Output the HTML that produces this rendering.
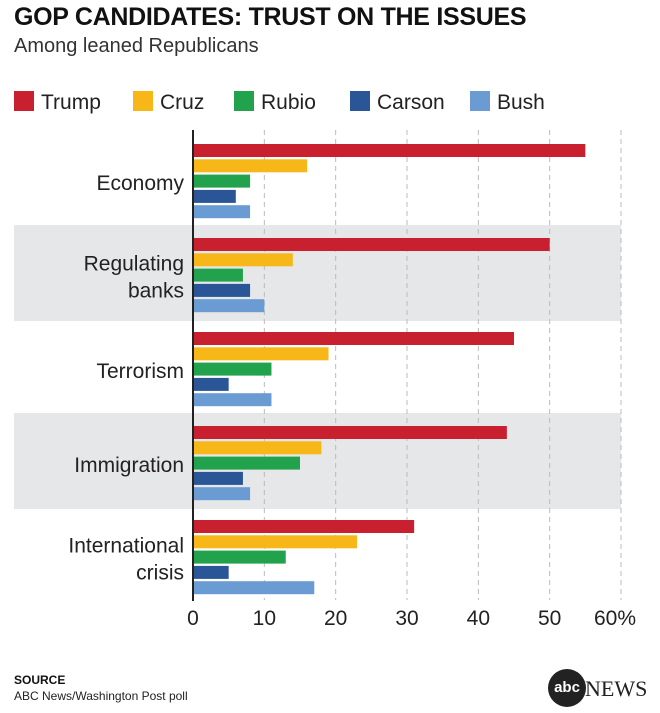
<!DOCTYPE html>
<html><head><meta charset="utf-8"><style>
body{margin:0;width:660px;height:713px;background:#fff;font-family:"Liberation Sans",sans-serif;overflow:hidden;position:relative}
.t{position:absolute;white-space:nowrap}
</style></head><body>
<div class="t" style="left:14px;top:3px;font-size:25px;font-weight:bold;color:#111;letter-spacing:-0.3px">GOP CANDIDATES: TRUST ON THE ISSUES</div>
<div class="t" style="left:14px;top:35px;font-size:20px;color:#333">Among leaned Republicans</div>
<svg id="chart" width="660" height="713" style="position:absolute;left:0;top:0"></svg>
<div class="t" style="left:14px;top:673px;font-size:12px;font-weight:bold;color:#111">SOURCE</div>
<div class="t" style="left:14px;top:689px;font-size:12px;color:#222">ABC News/Washington Post poll</div>
<div style="position:absolute;left:548px;top:669px;width:38px;height:38px;border-radius:50%;background:#222;color:#fff;font-size:15px;font-weight:bold;text-align:center;line-height:38px">abc</div>
<div class="t" style="left:585px;top:676px;font-family:'Liberation Serif',serif;font-size:22px;color:#222">NEWS</div>
<script>
const categories=["Economy","Regulating banks","Terrorism","Immigration","International crisis"];
const seriesNames=["Trump","Cruz","Rubio","Carson","Bush"];
const trump=[55,50,45,44,31];
const cruz=[16,14,19,18,23];
const rubio=[8,7,11,15,13];
const carson=[6,8,5,7,5];
const bush=[8,10,11,8,17];
const ticks=[0,10,20,30,40,50,60];
const tickLabels=["0","10","20","30","40","50","60%"];
const colors=["#c8202f","#f7b719","#23a24d","#2a5597","#6a9bd3"];
const series=[trump,cruz,rubio,carson,bush];
const svg=document.getElementById('chart');
const NS="http://www.w3.org/2000/svg";
const x=v=>193+v*(621-193)/60;
const groupTop=i=>144+i*94;
function mk(t,a){const e=document.createElementNS(NS,t);for(const k in a)e.setAttribute(k,a[k]);svg.appendChild(e);return e;}
// legend
const legX=[14,133,234,350,470];
seriesNames.forEach((n,i)=>{
 const r=mk('rect',{x:legX[i],y:91,width:20,height:20,fill:colors[i]});
 
 
 const t=mk('text',{x:legX[i]+27,y:109,'font-size':21,fill:'#222'});t.textContent=n;
 
 
});
// bands
categories.forEach((c,i)=>{if(i%2==1){const b=mk('rect',{x:14,y:groupTop(i)-13,width:607,height:96,fill:'#e6e7e8'});
 
 }});
// grid
ticks.forEach((t,i)=>{
 if(t>0){const l=mk('line',{x1:x(t),x2:x(t),y1:130,y2:600,stroke:'#bbb','stroke-dasharray':'5,4'});
 
 }
 const tx=mk('text',{x:x(t)+(i==6?-6:0),y:625,'font-size':21,fill:'#222','text-anchor':'middle'});tx.textContent=tickLabels[i];
 
 
});
// bars
categories.forEach((c,i)=>{
 series.forEach((s,j)=>{
  const b=mk('rect',{x:x(0),y:groupTop(i)+j*15.3,width:x(s[i])-x(0),height:13,fill:colors[j]});
  
  
 });
 const lines=c=="Regulating banks"?["Regulating","banks"]:c=="International crisis"?["International","crisis"]:[c];
 const cy=groupTop(i)+38;
 lines.forEach((ln,k)=>{
  const t=mk('text',{x:184,y:cy+8+(k-(lines.length-1)/2)*27,'font-size':21,fill:'#222','text-anchor':'end'});t.textContent=ln;
  
  
 });
});
const ax=mk('line',{x1:193,x2:193,y1:130,y2:601,stroke:'#222','stroke-width':2});


</script>
</body></html>
